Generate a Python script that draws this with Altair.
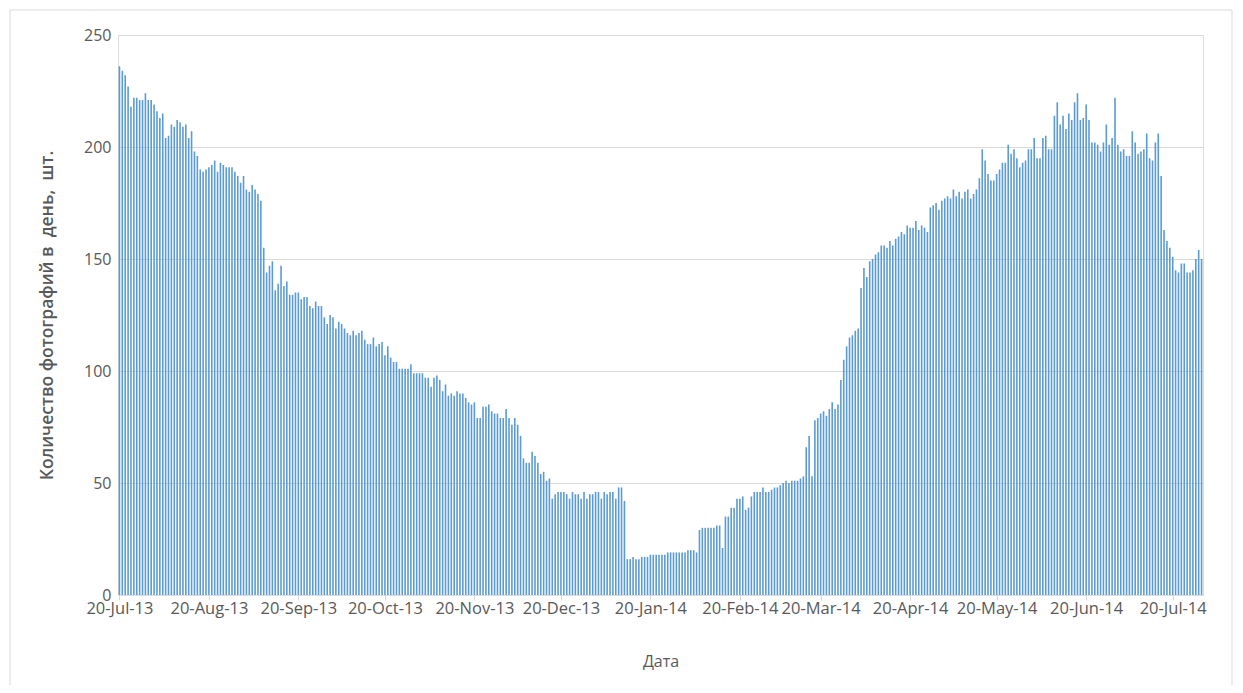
import altair as alt
import pandas as pd

start_date = "2013-07-20"

photos_per_day = [
    236, 234, 232, 227, 218, 222, 222, 221, 221, 224,
    221, 221, 219, 216, 213, 215, 204, 205, 210, 209,
    212, 211, 209, 210, 204, 207, 198, 196, 190, 189,
    190, 191, 192, 194, 189,
    193, 192, 191, 191, 191, 189, 187, 184, 187, 181,
    180, 183, 181, 179, 176, 155, 144, 147, 149, 136,
    139, 147, 138, 140, 134, 134, 135, 135, 132, 133,
    133, 129, 128, 131, 129,
    129, 124, 121, 125, 124, 119, 122, 121, 119, 117,
    116, 118, 116, 117, 118, 114, 112, 112, 115, 111,
    112, 113, 107, 111, 106, 104, 104, 101, 101, 101,
    101, 103, 99, 99, 99,
    99, 97, 97, 93, 97, 98, 96, 91, 94, 89,
    90, 89, 91, 90, 90, 88, 86, 85, 86, 79,
    79, 84, 84, 85, 82, 81, 81, 79, 79, 83,
    79, 76, 79, 76, 71,
    61, 59, 59, 64, 62, 59, 54, 55, 51, 52,
    43, 45, 46, 46, 46, 45, 43, 46, 45, 45,
    43, 46, 43, 45, 45, 46, 46, 43, 46, 45,
    46, 46, 43, 48, 48, 42,
    16, 16, 17, 16, 16, 17, 17, 17, 18, 18,
    18, 18, 18, 18, 19, 19, 19, 19, 19, 19,
    19, 20, 20, 20, 19, 29, 30, 30, 30, 30,
    30, 31, 31, 21,
    35, 35, 39, 39, 43, 43, 44, 38, 39, 44,
    46, 46, 46, 48, 46, 46, 47, 48, 48, 49,
    50, 51, 50, 51, 51, 51, 52, 53, 66, 71,
    53, 78, 79, 81, 82, 80, 83, 86, 83, 85,
    96, 105, 111, 115, 116, 118, 119, 137, 146, 142,
    149, 150, 152, 153, 156, 156, 155, 158, 156, 159,
    160, 162, 161, 165,
    164, 164, 167, 163, 165, 164, 162, 173, 174, 175,
    172, 176, 177, 178, 177, 181, 178, 180, 177, 180,
    181, 177, 179, 181, 186, 199, 194, 188, 185, 185,
    188, 190, 193, 193, 201,
    197, 199, 195, 191, 193, 194, 199, 199, 204, 195,
    195, 204, 205, 199, 199, 214, 220, 210, 214, 208,
    215, 212, 220, 224, 212, 213, 219, 212, 202, 202,
    201, 198, 202, 210, 201,
    204, 222, 201, 198, 199, 196, 196, 207, 202, 197,
    198, 199, 206, 195, 194, 202, 206, 187, 163, 158,
    155, 151, 145, 144, 148, 148, 144, 144, 145, 150,
    154, 150,
]

tick_dates = [
    (2013, 7, 20), (2013, 8, 20), (2013, 9, 20), (2013, 10, 20),
    (2013, 11, 20), (2013, 12, 20), (2014, 1, 20), (2014, 2, 20),
    (2014, 3, 20), (2014, 4, 20), (2014, 5, 20), (2014, 6, 20),
    (2014, 7, 20),
]
y_ticks = [0, 50, 100, 150, 200, 250]

x_title = "Дата"
y_title = "Количество фотографий в\u00a0 день,\u00a0 шт."

dates = pd.date_range(start_date, periods=len(photos_per_day), freq="D")
df = pd.DataFrame({"date": dates, "count": photos_per_day})

FONT = "Open Sans"
TEXT = "#595959"
GRID = "#D9D9D9"
BLUE = "#5B9BD5"

bars = alt.Chart(df).mark_bar(size=1.6, color=BLUE).encode(
    x=alt.X(
        "date:T",
        scale=alt.Scale(
            nice=False,
            padding=0,
            domain=[
                alt.DateTime(year=2013, month=7, date=19, hours=12),
                alt.DateTime(year=2014, month=7, date=30, hours=12),
            ],
        ),
        axis=alt.Axis(
            values=[alt.DateTime(year=y, month=m, date=d) for y, m, d in tick_dates],
            format="%d-%b-%y",
            title=x_title,
            grid=False,
            ticks=True,
            tickSize=5,
            tickColor=GRID,
            domainColor=GRID,
            labelColor=TEXT,
            labelFontSize=16.5,
            labelFont=FONT,
            labelPadding=0,
            labelOverlap=False,
            titleColor=TEXT,
            titleFont=FONT,
            titleFontSize=16,
            titleFontWeight="normal",
            titlePadding=37,
        ),
    ),
    y=alt.Y(
        "count:Q",
        scale=alt.Scale(domain=[0, 250]),
        axis=alt.Axis(
            values=y_ticks,
            title=y_title,
            domain=False,
            ticks=False,
            grid=True,
            gridColor=GRID,
            labelColor=TEXT,
            labelFontSize=16,
            labelFont=FONT,
            labelPadding=7,
            titleColor=TEXT,
            titleFont=FONT,
            titleFontSize=17.5,
            titleFontWeight=600,
            titlePadding=27,
        ),
    ),
)

frame = alt.Chart(pd.DataFrame({"k": [0]})).mark_rect(
    fillOpacity=0, stroke=GRID, strokeWidth=1
).encode(
    x=alt.value(-108), x2=alt.value(1114), y=alt.value(-25), y2=alt.value(700)
)

chart = alt.layer(bars, frame).properties(
    width=1085,
    height=560,
    autosize="none",
    padding={"left": 110, "top": 27, "right": 32, "bottom": 90},
).configure_view(strokeWidth=0).configure(background="white")

chart.save("out.html", embed_options={"renderer": "svg", "actions": False})
